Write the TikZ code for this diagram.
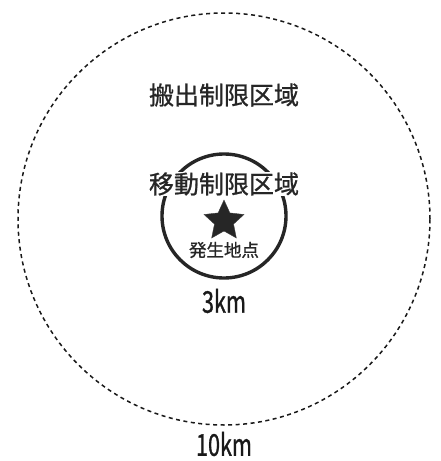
\documentclass[tikz,border=0pt]{standalone}
\usepackage{fontspec}
\usetikzlibrary{shapes.geometric}
\newfontfamily\jpfont[FakeBold=0.9]{Noto Sans CJK JP}
\newfontfamily\jpnum[FakeBold=1.2]{Noto Sans CJK JP}
\begin{document}
\begin{tikzpicture}[x=1pt,y=-1pt,
  zone/.style={font=\jpfont\fontsize{25}{25}\selectfont, text=black!85, inner sep=1pt},
  dist/.style={font=\jpnum\fontsize{30}{30}\selectfont, text=black!90, inner sep=0pt},
  small/.style={font=\jpfont\fontsize{17.5}{17.5}\selectfont, text=black!85, inner sep=0pt}]
\useasboundingbox[fill=white] (0,0) rectangle (441,461);
% outer dashed circle (10km)
\node[circle, draw=black!90, line width=1.5pt, dash pattern=on 4pt off 3.5pt,
      minimum size=412pt, inner sep=0pt] (outer) at (224,219) {};
% inner solid circle (3km)
\node[circle, draw=black!85, line width=3.4pt, minimum size=124pt, inner sep=0pt] (inner) at (224,216) {};
% labels
\node[zone] (out) at (224,95) {搬出制限区域};
\node[zone, fill=white, inner sep=0.5pt] (mov) at (224,184) {移動制限区域};
\node[star, star points=5, star point ratio=2.1, fill=black!85, draw=black!75,
      minimum size=42pt, inner sep=0pt] (origin) at (224,221) {};
\node[small] (pt) at (224,250) {発生地点};
\node[dist, xscale=0.72] (r3) at (224,301) {3km};
\node[dist, xscale=0.72] (r10) at (224,444) {10km};
\end{tikzpicture}
\end{document}
